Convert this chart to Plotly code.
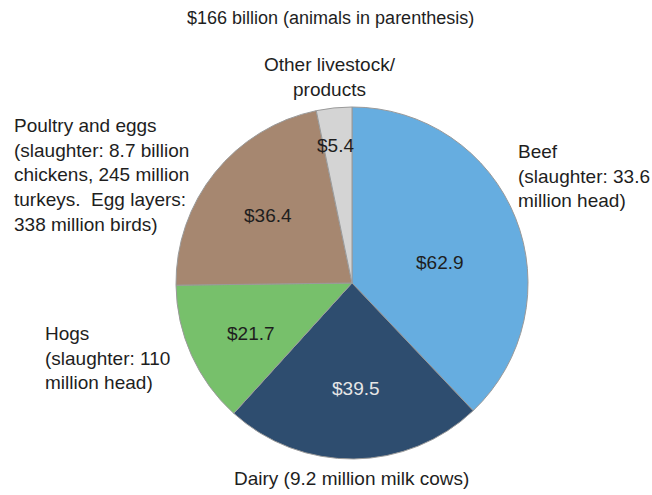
import plotly.graph_objects as go

W, H = 652, 495

categories = ["Beef", "Dairy", "Hogs", "Poultry and eggs", "Other livestock/products"]
values = [62.9, 39.5, 21.7, 36.4, 5.4]
colors = ["#66ade0", "#2e4d6f", "#77c06b", "#a68770", "#d4d4d4"]
value_text = ["$62.9", "$39.5", "$21.7", "$36.4", "$5.4"]
value_colors = ["#1e1e1e", "#e6e6e6", "#1e1e1e", "#1e1e1e", "#1e1e1e"]
# value label pixel positions (text placement)
value_pos = [(440, 262), (356, 388), (251, 333), (268, 216), (335, 145)]

title_text = "$166 billion (animals in parenthesis)"

cat_labels = [
    ("Beef<br>(slaughter: 33.6<br>million head)", 516, 176, "left"),
    ("Dairy (9.2 million milk cows)", 351, 478, "center"),
    ("Hogs<br>(slaughter: 110<br>million head)", 43, 358, "left"),
    ("Poultry and eggs<br>(slaughter: 8.7 billion<br>chickens, 245 million<br>turkeys.  Egg layers:<br>338 million birds)", 12, 175, "left"),
    ("Other livestock/<br>products", 330, 77, "center"),
]

FONT = "Liberation Sans, Arial, Helvetica, sans-serif"
FS = 19

cx, cy, R = 352, 283, 176

fig = go.Figure(go.Pie(
    labels=categories,
    values=values,
    sort=False,
    direction="clockwise",
    rotation=0,
    marker=dict(colors=colors, line=dict(color="#9a9a9a", width=1)),
    textinfo="none",
    hoverinfo="label+value",
    showlegend=False,
    domain=dict(x=[(cx - R) / W, (cx + R) / W], y=[(H - cy - R) / H, (H - cy + R) / H]),
))

ann = []
ann.append(dict(text=title_text, x=331 / W, y=1 - 18 / H, xref="paper", yref="paper",
                xanchor="center", yanchor="middle", showarrow=False,
                font=dict(family=FONT, size=18, color="#1e1e1e")))
for txt, px, py, al in cat_labels:
    ann.append(dict(text=txt, x=px / W, y=1 - py / H, xref="paper", yref="paper",
                    xanchor=al, yanchor="middle", align=al, showarrow=False,
                    font=dict(family=FONT, size=FS, color="#1e1e1e")))
for txt, (px, py), c in zip(value_text, value_pos, value_colors):
    ann.append(dict(text=txt, x=px / W, y=1 - py / H, xref="paper", yref="paper",
                    xanchor="center", yanchor="middle", showarrow=False,
                    font=dict(family=FONT, size=FS, color=c)))

fig.update_layout(
    width=W, height=H,
    margin=dict(l=0, r=0, t=0, b=0),
    paper_bgcolor="white", plot_bgcolor="white",
    annotations=ann,
)

fig.write_html("out.html")
